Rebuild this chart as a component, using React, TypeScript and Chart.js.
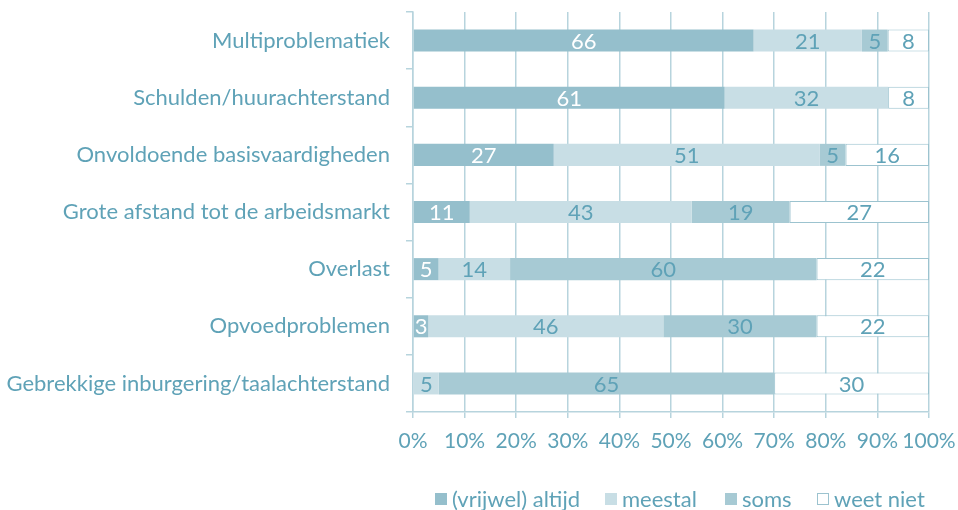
import React, { useEffect, useRef } from "react";
import { Chart, registerables } from "chart.js";

Chart.register(...registerables);

const categories = [
  "Multiproblematiek",
  "Schulden/huurachterstand",
  "Onvoldoende basisvaardigheden",
  "Grote afstand tot de arbeidsmarkt",
  "Overlast",
  "Opvoedproblemen",
  "Gebrekkige inburgering/taalachterstand",
];
const seriesNames = ["(vrijwel) altijd", "meestal", "soms", "weet niet"];
const altijd = [66, 61, 27, 11, 5, 3, 0];
const meestal = [21, 32, 51, 43, 14, 46, 5];
const soms = [5, 0, 5, 19, 60, 30, 65];
const weetNiet = [8, 8, 16, 27, 22, 22, 30];
const xTicks = [0, 10, 20, 30, 40, 50, 60, 70, 80, 90, 100];

const TEXT = "#5fa2b7";
const GRID = "#b7d4dd";
const fills = ["#95bfcc", "#c8dee5", "#a7cad4", "#ffffff"];
const FONT = "Lato";
const legendLeft = [435, 605, 725, 817];

const rawSeries = [altijd, meestal, soms, weetNiet];

export default function App() {
  const ref = useRef<HTMLCanvasElement>(null);
  useEffect(() => {
    document.body.style.margin = "0";
    const totals = categories.map((_, i) => rawSeries.reduce((s, arr) => s + arr[i], 0));
    const labelPlugin = {
      id: "segLabels",
      afterDatasetsDraw(chart: any) {
        const ctx = chart.ctx;
        ctx.save();
        ctx.font = `22px ${FONT}`;
        ctx.textAlign = "center";
        ctx.textBaseline = "middle";
        chart.data.datasets.forEach((ds: any, di: number) => {
          const meta = chart.getDatasetMeta(di);
          meta.data.forEach((el: any, i: number) => {
            const v = rawSeries[di][i];
            if (!v) return;
            const p = el.getProps(["x", "y", "base"], true);
            ctx.fillStyle = di === 0 ? "#ffffff" : TEXT;
            ctx.fillText(String(v), (p.x + p.base) / 2, p.y + 1);
          });
        });
        ctx.restore();
      },
    };
    const chart = new Chart(ref.current!, {
      type: "bar",
      data: {
        labels: categories,
        datasets: rawSeries.map((arr, di) => ({
          label: seriesNames[di],
          data: arr.map((v, i) => (v / totals[i]) * 100),
          backgroundColor: fills[di],
          borderColor: di === 3 ? "#9cc3cf" : fills[di],
          borderWidth: di === 3 ? 1 : 0,
          borderSkipped: false,
          barPercentage: 0.386,
          categoryPercentage: 1,
        })),
      },
      options: {
        indexAxis: "y",
        responsive: false,
        animation: false,
        layout: { padding: { top: 12, right: 29, left: 0, bottom: 58 } },
        plugins: { legend: { display: false }, tooltip: { enabled: false } },
        scales: {
          x: {
            stacked: true,
            min: 0,
            max: 100,
            afterBuildTicks: (s: any) => {
              s.ticks = xTicks.map((v) => ({ value: v }));
            },
            afterFit: (s: any) => {
              s.height = 40;
              s.paddingLeft = 0;
              s.paddingRight = 0;
            },
            grid: { color: GRID, lineWidth: 1.5, tickLength: 6 },
            border: { color: GRID, width: 1.5 },
            ticks: {
              color: TEXT,
              font: { family: FONT, size: 21 },
              padding: 11,
              callback: (v: any) => v + "%",
              maxRotation: 0,
              autoSkip: false,
            },
          },
          y: {
            stacked: true,
            afterFit: (s: any) => {
              s.width = 413;
              s.paddingTop = 0;
              s.paddingBottom = 0;
            },
            grid: { drawOnChartArea: false, color: GRID, lineWidth: 1.5, tickLength: 7, offset: true },
            border: { color: GRID, width: 1.5 },
            ticks: { color: TEXT, font: { family: FONT, size: 22 }, padding: 16, autoSkip: false },
          },
        },
      },
      plugins: [labelPlugin],
    } as any);
    return () => chart.destroy();
  }, []);
  return (
    <div style={{ position: "fixed", left: 0, top: 0, width: 958, height: 510, background: "#fff" }}>
      <canvas ref={ref} width={958} height={510} style={{ position: "absolute", left: 0, top: 0 }} />
      {seriesNames.map((n, i) => (
        <div
          key={n}
          style={{
            position: "absolute",
            left: legendLeft[i],
            top: 486,
            display: "flex",
            alignItems: "center",
            fontFamily: FONT,
            fontSize: 22,
            color: TEXT,
            lineHeight: "26px",
            whiteSpace: "nowrap",
          }}
        >
          <span
            style={{
              display: "inline-block",
              width: 12,
              height: 12,
              background: fills[i],
              border: i === 3 ? "1px solid #9cc3cf" : "none",
              boxSizing: "border-box",
              marginRight: 5,
            }}
          />
          {n}
        </div>
      ))}
    </div>
  );
}
